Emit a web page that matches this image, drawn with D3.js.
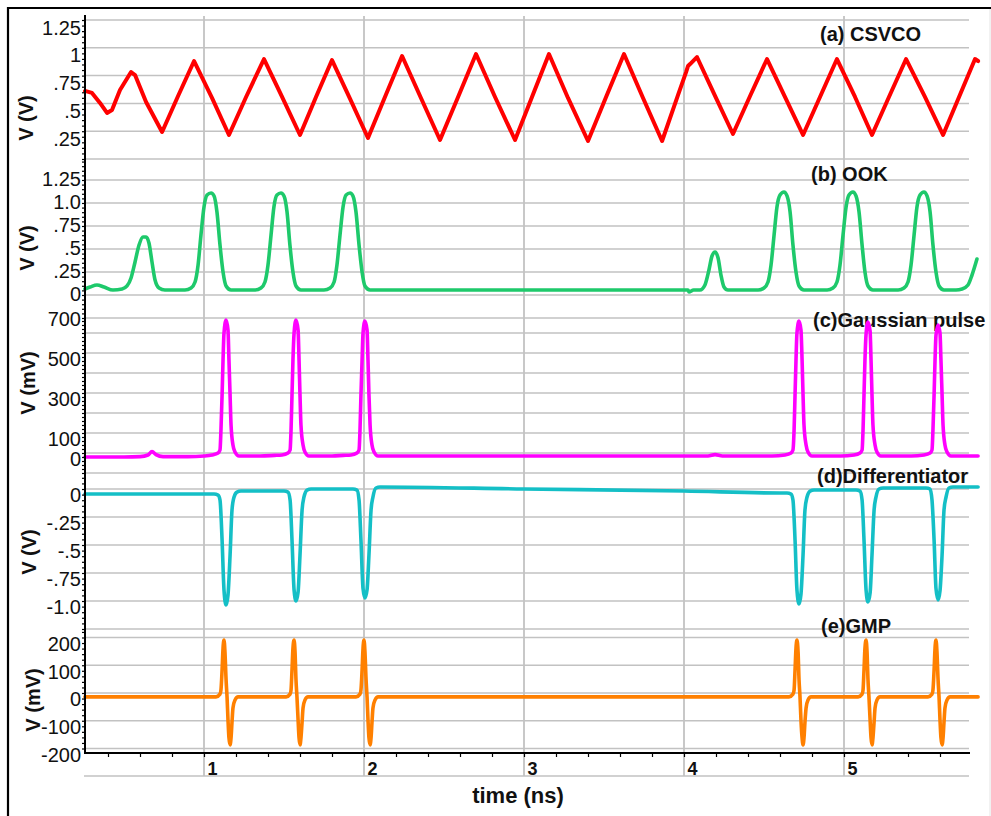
<!DOCTYPE html>
<html>
<head>
<meta charset="utf-8">
<script src="https://cdn.jsdelivr.net/npm/d3@7"></script>
<style>
  html, body { margin: 0; background: #fff; }
  svg { display: block; font-family: "Liberation Sans", Arial, Helvetica, sans-serif; }
</style>
</head>
<body>
<svg id="chart" width="991" height="816"></svg>
<script>
// ---- waveform samples: [time (ns), value] ----
const csvco = [[0.256,0.612],[0.3,0.594],[0.35,0.504],[0.394,0.414],[0.425,0.441],[0.475,0.621],[0.544,0.782],[0.569,0.755],[0.638,0.513],[0.738,0.243],[0.838,0.567],[0.938,0.881],[1.05,0.549],[1.156,0.216],[1.263,0.558],[1.375,0.899],[1.488,0.558],[1.6,0.216],[1.7,0.558],[1.8,0.89],[1.913,0.54],[2.025,0.189],[2.131,0.558],[2.238,0.926],[2.356,0.549],[2.475,0.171],[2.588,0.558],[2.7,0.944],[2.819,0.558],[2.944,0.171],[3.05,0.558],[3.156,0.944],[3.275,0.549],[3.4,0.162],[3.513,0.558],[3.625,0.944],[3.744,0.549],[3.863,0.162],[3.963,0.576],[4.013,0.782],[4.025,0.836],[4.038,0.854],[4.081,0.917],[4.194,0.567],[4.306,0.225],[4.413,0.567],[4.519,0.899],[4.631,0.558],[4.744,0.216],[4.85,0.558],[4.956,0.899],[5.069,0.558],[5.175,0.216],[5.281,0.558],[5.388,0.899],[5.506,0.558],[5.619,0.216],[5.719,0.558],[5.819,0.899],[5.838,0.881]];

const ook = [[0.256,0.065],[0.288,0.087],[0.331,0.109],[0.375,0.087],[0.431,0.054],[0.488,0.065],[0.519,0.098],[0.544,0.185],[0.569,0.359],[0.594,0.543],[0.619,0.63],[0.638,0.63],[0.656,0.565],[0.675,0.359],[0.694,0.163],[0.719,0.076],[0.756,0.054],[0.881,0.054],
  [0.919,0.076],[0.944,0.141],[0.963,0.326],[0.981,0.652],[1.0,0.957],[1.019,1.087],[1.044,1.109],[1.063,1.076],[1.081,0.902],[1.1,0.543],[1.119,0.25],[1.138,0.098],[1.169,0.054],
  [1.32,0.054],
  [1.356,0.076],[1.381,0.141],[1.4,0.326],[1.419,0.652],[1.437,0.957],[1.456,1.087],[1.481,1.109],[1.5,1.076],[1.519,0.902],[1.537,0.543],[1.556,0.25],[1.575,0.098],[1.606,0.054],
  [1.75,0.054],
  [1.788,0.076],[1.813,0.141],[1.831,0.326],[1.85,0.652],[1.869,0.957],[1.888,1.087],[1.913,1.109],[1.931,1.076],[1.95,0.902],[1.969,0.543],[1.988,0.25],[2.006,0.098],[2.038,0.054],
  [4.025,0.054],[4.031,0.033],[4.06,0.054],[4.1,0.054],[4.131,0.109],[4.156,0.272],[4.175,0.424],[4.194,0.467],[4.213,0.402],[4.231,0.217],[4.25,0.087],[4.275,0.054],
  [4.463,0.054],
  [4.5,0.076],[4.525,0.141],[4.544,0.326],[4.563,0.652],[4.581,0.957],[4.6,1.087],[4.625,1.12],[4.644,1.076],[4.663,0.902],[4.681,0.543],[4.7,0.25],[4.719,0.098],[4.75,0.054],
  [4.894,0.054],
  [4.931,0.076],[4.956,0.141],[4.975,0.326],[4.994,0.652],[5.013,0.957],[5.031,1.087],[5.056,1.12],[5.075,1.076],[5.094,0.902],[5.113,0.543],[5.131,0.25],[5.15,0.098],[5.181,0.054],
  [5.338,0.054],
  [5.375,0.076],[5.4,0.141],[5.419,0.326],[5.438,0.652],[5.456,0.957],[5.475,1.087],[5.5,1.12],[5.519,1.076],[5.538,0.902],[5.556,0.543],[5.575,0.25],[5.594,0.098],[5.625,0.054],
  [5.7,0.054],[5.738,0.065],[5.775,0.109],[5.8,0.217],[5.831,0.391]];

const gaussian = [[0.256,-20],[0.5,-20],[0.6,-18],[0.65,-10],[0.675,7],[0.7,-8],[0.744,-18],[0.9,-18],[1.0,-15],
  [1.05,-10],[1.088,0],[1.1,15],[1.106,115],[1.113,290],[1.119,465],[1.125,600],[1.138,665],[1.15,615],[1.156,465],[1.163,290],[1.169,140],[1.181,40],[1.194,5],[1.219,-15],
  [1.35,-15],[1.44,-12],
  [1.488,-10],[1.525,0],[1.538,15],[1.544,115],[1.55,290],[1.556,465],[1.563,600],[1.575,665],[1.588,615],[1.594,465],[1.6,290],[1.606,140],[1.619,40],[1.631,5],[1.656,-15],
  [1.8,-15],[1.87,-12],
  [1.919,-10],[1.956,0],[1.969,15],[1.975,115],[1.981,290],[1.988,465],[1.994,600],[2.006,660],[2.019,615],[2.025,465],[2.031,290],[2.038,140],[2.05,40],[2.063,5],[2.088,-15],
  [3.0,-15],[4.15,-15],[4.194,-8],[4.24,-15],[4.55,-15],
  [4.631,-10],[4.669,0],[4.681,15],[4.688,115],[4.694,290],[4.7,465],[4.706,600],[4.719,660],[4.731,615],[4.738,465],[4.744,290],[4.75,140],[4.763,40],[4.775,5],[4.8,-15],
  [4.98,-15],
  [5.063,-10],[5.1,0],[5.113,15],[5.119,115],[5.125,290],[5.131,465],[5.138,595],[5.15,655],[5.163,610],[5.169,465],[5.175,290],[5.181,140],[5.194,40],[5.206,5],[5.231,-15],
  [5.42,-15],
  [5.5,-10],[5.538,0],[5.55,15],[5.556,115],[5.563,290],[5.569,465],[5.575,590],[5.588,640],[5.6,600],[5.606,465],[5.613,290],[5.619,140],[5.631,40],[5.644,5],[5.669,-15],
  [5.838,-15]];

const differentiator = [[0.256,-0.045],[1.0,-0.045],
  [1.063,-0.045],[1.088,-0.054],[1.1,-0.098],[1.113,-0.455],[1.125,-0.902],[1.138,-1.036],[1.15,-0.946],[1.163,-0.589],[1.175,-0.188],[1.188,-0.071],[1.206,-0.027],[1.231,-0.018],
  [1.4,-0.018],
  [1.5,-0.018],[1.525,-0.027],[1.538,-0.098],[1.55,-0.455],[1.563,-0.902],[1.575,-1.0],[1.588,-0.92],[1.6,-0.589],[1.613,-0.188],[1.625,-0.071],[1.644,-0.009],[1.669,0],
  [1.85,0],
  [1.931,0],[1.956,-0.009],[1.969,-0.098],[1.981,-0.455],[1.994,-0.89],[2.006,-0.973],[2.019,-0.9],[2.031,-0.589],[2.044,-0.188],[2.056,-0.071],[2.075,0.009],[2.1,0.018],
  [3.0,0.0],[4.0,-0.018],[4.6,-0.036],
  [4.644,-0.036],[4.669,-0.045],[4.681,-0.098],[4.694,-0.455],[4.706,-0.902],[4.719,-1.027],[4.731,-0.94],[4.744,-0.589],[4.756,-0.188],[4.769,-0.071],[4.788,-0.018],[4.813,-0.009],
  [5.0,-0.009],
  [5.075,-0.009],[5.1,-0.018],[5.113,-0.098],[5.125,-0.455],[5.138,-0.902],[5.15,-1.009],[5.163,-0.93],[5.175,-0.589],[5.188,-0.188],[5.2,-0.071],[5.219,0],[5.244,0.009],
  [5.45,0.009],
  [5.513,0.009],[5.538,0],[5.55,-0.098],[5.563,-0.455],[5.575,-0.89],[5.588,-0.991],[5.6,-0.91],[5.613,-0.589],[5.625,-0.188],[5.638,-0.071],[5.656,0.009],[5.681,0.018],
  [5.838,0.018]];

const gmp = [[0.256,-14],[1.0,-14],
  [1.075,-14],[1.1,-4],[1.106,11],[1.113,83],[1.119,162],[1.125,191],[1.131,148],[1.138,47],[1.144,-14],[1.15,-97],[1.156,-162],[1.163,-187],[1.169,-162],[1.175,-105],[1.181,-54],[1.194,-25],[1.213,-14],
  [1.4,-14],
  [1.513,-14],[1.538,-4],[1.544,11],[1.55,83],[1.556,162],[1.563,191],[1.569,148],[1.575,47],[1.581,-14],[1.588,-97],[1.594,-162],[1.6,-187],[1.606,-162],[1.613,-105],[1.619,-54],[1.631,-25],[1.65,-14],
  [1.8,-14],
  [1.95,-14],[1.975,-4],[1.981,11],[1.988,83],[1.994,162],[2.0,191],[2.006,148],[2.013,47],[2.019,-14],[2.025,-97],[2.031,-162],[2.038,-187],[2.044,-162],[2.05,-105],[2.056,-54],[2.069,-25],[2.088,-14],
  [3.5,-14],
  [4.656,-14],[4.681,-4],[4.688,11],[4.694,83],[4.7,162],[4.706,191],[4.713,148],[4.719,47],[4.725,-14],[4.731,-97],[4.738,-162],[4.744,-187],[4.75,-162],[4.756,-105],[4.763,-54],[4.775,-25],[4.794,-14],
  [4.95,-14],
  [5.088,-14],[5.113,-4],[5.119,11],[5.125,83],[5.131,162],[5.138,191],[5.144,148],[5.15,47],[5.156,-14],[5.163,-97],[5.169,-162],[5.175,-187],[5.181,-162],[5.188,-105],[5.194,-54],[5.206,-25],[5.225,-14],
  [5.4,-14],
  [5.525,-14],[5.55,-4],[5.556,11],[5.563,83],[5.569,162],[5.575,191],[5.581,148],[5.588,47],[5.594,-14],[5.6,-97],[5.606,-162],[5.613,-187],[5.619,-162],[5.625,-105],[5.631,-54],[5.644,-25],[5.663,-14],
  [5.838,-14]];

// ---- axis ticks and labels ----
const timeTicks = [1, 2, 3, 4, 5];
const timeTickLabels = ["1", "2", "3", "4", "5"];
const csvcoTicks = [1.25, 1, 0.75, 0.5, 0.25];
const csvcoTickLabels = ["1.25", "1", ".75", ".5", ".25"];
const ookTicks = [1.25, 1, 0.75, 0.5, 0.25, 0];
const ookTickLabels = ["1.25", "1.0", ".75", ".5", ".25", "0"];
const gaussianTicks = [700, 500, 300, 100, 0];
const gaussianTickLabels = ["700", "500", "300", "100", "0"];
const diffTicks = [0, -0.25, -0.5, -0.75, -1];
const diffTickLabels = ["0", "-.25", "-.5", "-.75", "-1.0"];
const gmpTicks = [200, 100, 0, -100, -200];
const gmpTickLabels = ["200", "100", "0", "-100", "-200"];

// ---- layout ----
const svg = d3.select("#chart");
const plotLeft = 85, plotRight = 969, axisY = 753, stripBottom = 776;
const gridColor = "#c2c2c2";

const x = d3.scaleLinear().domain([0.25625, 5.78125]).range([plotLeft, plotRight]);

const panels = [
  { title: "(a) CSVCO", unit: "V (V)", data: csvco, color: "#ff0000", width: 4, curve: d3.curveLinear,
    domain: [0, 1.286], top: 16, bottom: 159, grid: [0, 1.25, 0.25], minor: 0.05,
    ticks: csvcoTicks, labels: csvcoTickLabels, labelShift: 7,
    titleX: 820, titleY: 41, unitX: 26, unitY: 118 },
  { title: "(b) OOK", unit: "V (V)", data: ook, color: "#1ec96b", width: 3.6, curve: d3.curveMonotoneX,
    domain: [-0.25, 1.478], top: 159, bottom: 318, grid: [-0.25, 1.25, 0.25], minor: 0.05,
    ticks: ookTicks, labels: ookTickLabels, labelShift: -1,
    titleX: 811, titleY: 181, unitX: 27, unitY: 248 },
  { title: "(c)Gaussian pulse", unit: "V (mV)", data: gaussian, color: "#ff00ff", width: 3.6, curve: d3.curveMonotoneX,
    domain: [-100, 675], top: 318, bottom: 473, grid: [-100, 600, 100], minor: 20,
    ticks: gaussianTicks, labels: gaussianTickLabels, labelShift: 5,
    titleX: 813, titleY: 327, unitX: 28, unitY: 383 },
  { title: "(d)Differentiator", unit: "V (V)", data: differentiator, color: "#14bfc6", width: 3.6, curve: d3.curveMonotoneX,
    domain: [-1.25, 0.143], top: 473, bottom: 629, grid: [-1.25, 0, 0.25], minor: 0.05,
    ticks: diffTicks, labels: diffTickLabels, labelShift: 5,
    titleX: 817, titleY: 483, unitX: 29, unitY: 552 },
  { title: "(e)GMP", unit: "V (mV)", data: gmp, color: "#ff8000", width: 3.6, curve: d3.curveMonotoneX,
    domain: [-216.2, 230.6], top: 629, bottom: 753, grid: [-200, 200, 100], minor: 20,
    ticks: gmpTicks, labels: gmpTickLabels, labelShift: 6,
    titleX: 821, titleY: 633, unitX: 33, unitY: 700 }
];
panels.forEach(p => { p.y = d3.scaleLinear().domain(p.domain).range([p.bottom, p.top]); });

// outer frame
svg.append("path").attr("d", "M8,816V8H991")
  .attr("fill", "none").attr("stroke", "#000").attr("stroke-width", 2.2);
svg.append("line").attr("x1", 990).attr("x2", 990).attr("y1", 9).attr("y2", 816)
  .attr("stroke", "#e4e4e4").attr("stroke-width", 1);

// grid
const grid = svg.append("g");
panels.forEach(p => {
  const vals = d3.range(p.grid[0], p.grid[1] + p.grid[2] / 100, p.grid[2]);
  grid.selectAll(null).data(vals).join("line")
    .attr("x1", plotLeft - 1).attr("x2", plotRight)
    .attr("y1", d => p.y(d)).attr("y2", d => p.y(d))
    .attr("stroke", gridColor).attr("stroke-width", 1.5);
});
grid.selectAll(null).data(timeTicks).join("line")
  .attr("x1", d => x(d)).attr("x2", d => x(d))
  .attr("y1", 16).attr("y2", stripBottom)
  .attr("stroke", gridColor).attr("stroke-width", 1.8);
grid.append("line").attr("x1", plotLeft - 1).attr("x2", plotRight)
  .attr("y1", stripBottom).attr("y2", stripBottom)
  .attr("stroke", gridColor).attr("stroke-width", 1.5);

// panel titles
svg.append("g").selectAll("text").data(panels).join("text")
  .attr("x", p => p.titleX).attr("y", p => p.titleY)
  .attr("font-size", 20).attr("font-weight", "bold").attr("fill", "#111")
  .text(p => p.title);

// waveforms
const wave = svg.append("g");
panels.forEach(p => {
  const line = d3.line().x(d => x(d[0])).y(d => p.y(d[1])).curve(p.curve);
  wave.append("path").datum(p.data)
    .attr("d", line)
    .attr("fill", "none").attr("stroke", p.color).attr("stroke-width", p.width)
    .attr("stroke-linejoin", "round").attr("stroke-linecap", "round");
});

// left axes
panels.forEach(p => {
  const minorVals = d3.range(p.domain[0] + 1e-9, p.domain[1], p.minor)
    .map(v => Math.round(v / p.minor) * p.minor)
    .filter(v => p.y(v) <= p.bottom && p.y(v) >= p.top);
  const gMinor = svg.append("g").attr("transform", `translate(${plotLeft},0)`)
    .call(d3.axisLeft(p.y).tickValues(minorVals).tickSize(3).tickFormat(""));
  gMinor.select(".domain").remove();
  gMinor.selectAll("line").attr("stroke", "#000").attr("stroke-width", 1.2);

  const gMajor = svg.append("g").attr("transform", `translate(${plotLeft},0)`)
    .call(d3.axisLeft(p.y).tickValues(p.ticks).tickSize(0).tickFormat((d, i) => p.labels[i]));
  gMajor.select(".domain").remove();
  gMajor.selectAll("text")
    .attr("x", -4).attr("y", p.labelShift).attr("dy", "0.35em")
    .attr("font-size", 20).attr("fill", "#111")
    .attr("font-family", "\"Liberation Sans\", Arial, sans-serif");

  svg.append("text")
    .attr("transform", `translate(${p.unitX},${p.unitY}) rotate(-90)`)
    .attr("text-anchor", "middle").attr("dy", "0.35em")
    .attr("font-size", 20).attr("font-weight", "bold").attr("fill", "#111")
    .text(p.unit);
});
svg.append("line").attr("x1", plotLeft).attr("x2", plotLeft).attr("y1", 15).attr("y2", axisY + 1)
  .attr("stroke", "#000").attr("stroke-width", 2);

// time axis
const gx = svg.append("g").attr("transform", `translate(0,${axisY})`)
  .call(d3.axisBottom(x).tickValues(d3.range(0.4, 5.7, 0.2)).tickSize(4).tickFormat(""));
gx.select(".domain").remove();
gx.selectAll("line").attr("stroke", "#000").attr("stroke-width", 1.2);

const gxl = svg.append("g").attr("transform", `translate(0,${axisY})`)
  .call(d3.axisBottom(x).tickValues(timeTicks).tickSize(0).tickFormat((d, i) => timeTickLabels[i]));
gxl.select(".domain").remove();
gxl.selectAll("text")
  .attr("x", 3).attr("y", 22).attr("dy", 0)
  .attr("text-anchor", "start").attr("font-size", 18).attr("font-weight", "bold")
  .attr("fill", "#111").attr("font-family", "\"Liberation Sans\", Arial, sans-serif");

svg.append("line").attr("x1", plotLeft).attr("x2", plotRight + 1).attr("y1", axisY).attr("y2", axisY)
  .attr("stroke", "#000").attr("stroke-width", 2);

svg.append("text").attr("x", 518).attr("y", 803).attr("text-anchor", "middle")
  .attr("font-size", 22).attr("font-weight", "bold").attr("fill", "#111")
  .text("time (ns)");
</script>
</body>
</html>
